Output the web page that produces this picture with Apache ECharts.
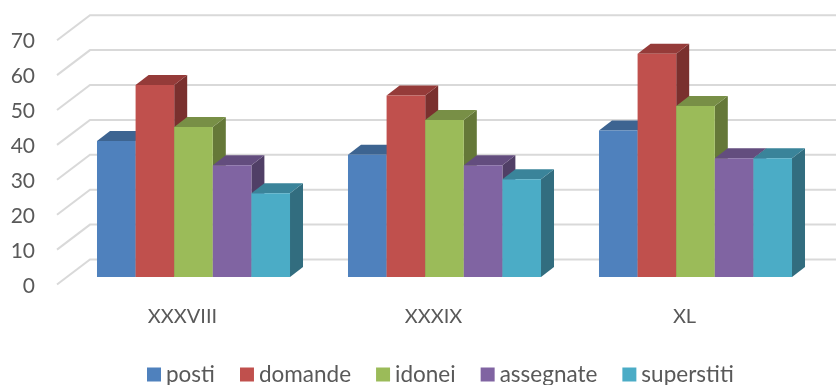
<!DOCTYPE html>
<html><head><meta charset="utf-8">
<style>html,body{margin:0;padding:0;background:#fff}#c{width:836px;height:385px}</style>
<script src="https://cdn.jsdelivr.net/npm/echarts@6/dist/echarts.min.js"></script>
</head><body><div id="c"></div>
<script>
const categories = ['XXXVIII', 'XXXIX', 'XL'];
const yTicks = [0, 10, 20, 30, 40, 50, 60, 70];
const posti = [39, 35, 42];
const domande = [55, 52, 64];
const idonei = [43, 45, 49];
const assegnate = [32, 32, 34];
const superstiti = [24, 28, 34];

const seriesDefs = [
  { name: 'posti', values: posti, front: '#4f81bd', top: '#3d6491', side: '#2f4c70' },
  { name: 'domande', values: domande, front: '#c0504d', top: '#953b39', side: '#7a302e' },
  { name: 'idonei', values: idonei, front: '#9bbb59', top: '#788f46', side: '#657838' },
  { name: 'assegnate', values: assegnate, front: '#8064a2', top: '#634d7e', side: '#503f66' },
  { name: 'superstiti', values: superstiti, front: '#4bacc6', top: '#3a849a', side: '#326d7f' }
];

const FONT = 'Lato';
const TEXT = '#595959';
const DEPTH_X = 13, DEPTH_Y = 10;

function barRenderer(def, idx) {
  return function (params, api) {
    const cat = api.value(0), val = api.value(1);
    const band = api.size([1, 0])[0];
    const w = band * 0.1538;
    const top = api.coord([cat, val]);
    const base = api.coord([cat, 0]);
    const l = top[0] - 2.5 * w + idx * w, r = l + w;
    const t = top[1], b = base[1];
    const poly = (pts, fill) => ({ type: 'polygon', shape: { points: pts }, style: { fill: fill } });
    return {
      type: 'group',
      children: [
        poly([[r, b], [r + DEPTH_X, b - DEPTH_Y], [r + DEPTH_X, t - DEPTH_Y], [r, t]], def.side),
        poly([[l, t], [l + DEPTH_X, t - DEPTH_Y], [r + DEPTH_X, t - DEPTH_Y], [r, t]], def.top),
        { type: 'rect', shape: { x: l, y: t, width: w, height: b - t }, style: { fill: def.front } }
      ]
    };
  };
}

const gridSeries = {
  type: 'custom',
  name: 'griglia',
  xAxisIndex: 0, yAxisIndex: 0,
  silent: true,
  z: 1,
  clip: false,
  data: yTicks.map(v => [0, v]),
  renderItem: function (params, api) {
    const p = api.coord([0, api.value(1)]);
    const y = p[1];
    return {
      type: 'polyline',
      shape: { points: [[57, y + 7.5], [90, y - 17.5], [api.getWidth(), y - 17.5]] },
      style: { stroke: '#d9d9d9', lineWidth: 2, fill: 'none' }
    };
  }
};

const option = {
  animation: false,
  backgroundColor: '#fff',
  color: seriesDefs.map(d => d.front),
  textStyle: { fontFamily: FONT },
  legend: {
    data: seriesDefs.map(d => d.name),
    left: 147, top: 363, padding: 0,
    itemWidth: 14, itemHeight: 14, itemGap: 25,
    icon: 'rect',
    textStyle: { fontFamily: FONT, fontSize: 22.5, color: TEXT }
  },
  grid: [
    { left: 68, width: 753, top: 32.7, height: 244.3 },
    { left: 57, width: 753, top: 41.7, height: 244.3 }
  ],
  xAxis: [
    { type: 'category', gridIndex: 0, data: categories, show: false },
    { type: 'category', gridIndex: 1, data: categories,
      axisLine: { show: false }, axisTick: { show: false },
      axisLabel: { fontFamily: FONT, fontSize: 20, color: TEXT, margin: 21 } }
  ],
  yAxis: [
    { type: 'value', gridIndex: 0, min: 0, max: 70, interval: 10, show: false },
    { type: 'value', gridIndex: 1, min: 0, max: 70, interval: 10,
      axisLine: { show: false }, axisTick: { show: false }, splitLine: { show: false },
      axisLabel: { fontFamily: FONT, fontSize: 21, color: TEXT, margin: 22 } }
  ],
  series: [gridSeries].concat(seriesDefs.map((d, i) => ({
    type: 'custom',
    name: d.name,
    xAxisIndex: 0, yAxisIndex: 0,
    z: 2,
    clip: false,
    itemStyle: { color: d.front },
    encode: { x: 0, y: 1 },
    data: d.values.map((v, c) => [c, v]),
    renderItem: barRenderer(d, i)
  })))
};
echarts.init(document.getElementById('c'), null, { renderer: 'canvas' }).setOption(option);
</script></body></html>
